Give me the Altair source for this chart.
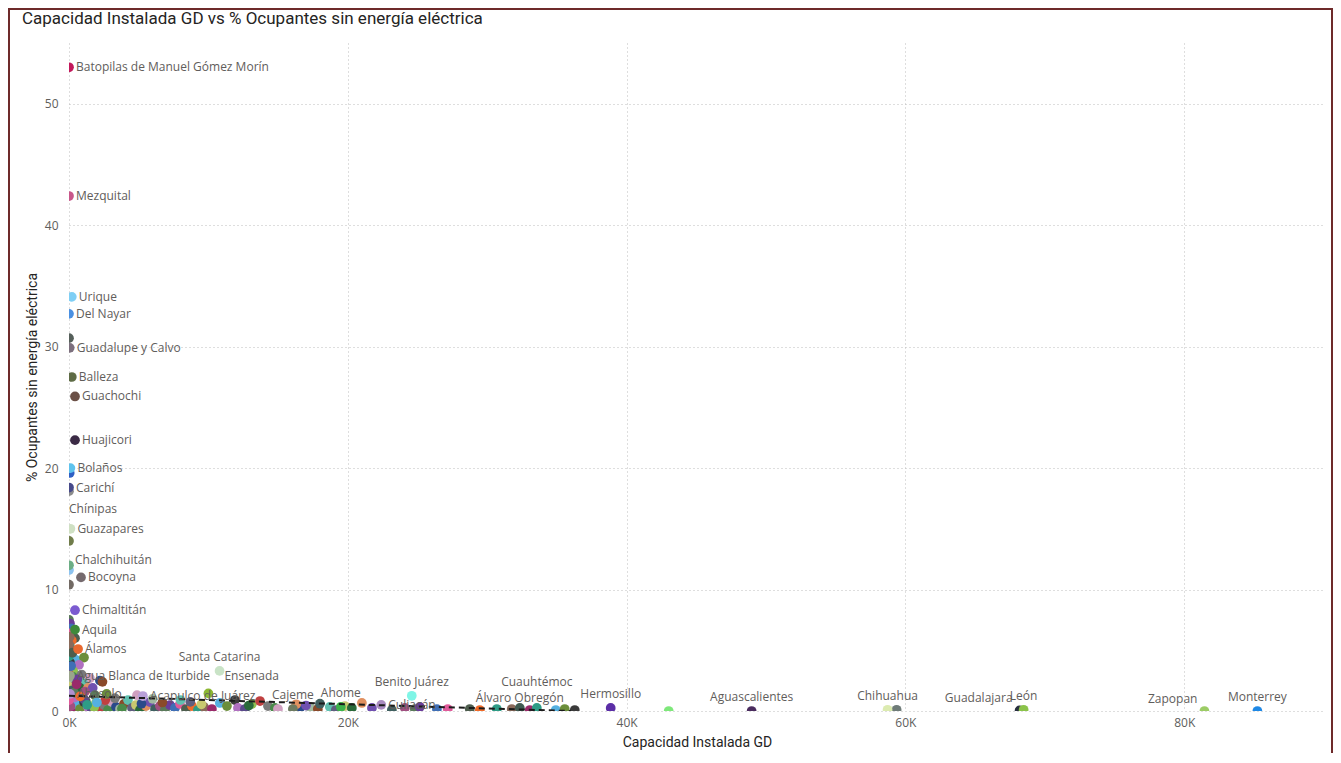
import altair as alt
import pandas as pd

# ---------------- data ----------------
names = [
    "Batopilas de Manuel Gómez Morín", "Mezquital", "Urique", "Del Nayar",
    "Guadalupe y Calvo", "Balleza", "Guachochi", "Huajicori", "Bolaños",
    "Chínipas", "Carichí", "Guazapares", "Chalchihuitán", "Bocoyna",
    "Chimaltitán", "Aquila", "Álamos", "Agua Blanca de Iturbide", "Abasolo",
    "Santa Catarina", "Ensenada", "Acapulco de Juárez", "Cajeme", "Ahome",
    "Benito Juárez", "Culiacán", "Álvaro Obregón", "Cuauhtémoc", "Hermosillo",
    "Aguascalientes", "Chihuahua", "Guadalajara", "León", "Zapopan", "Monterrey",
]
cap_gd = [
    0, 0, 200, 0,
    50, 200, 430, 430, 100,
    0, 0, 100, 0, 860,
    430, 430, 650, 70, 70,
    10800, 10000, 5300, 16060, 19500,
    24590, 22400, 32340, 33560, 38860,
    48970, 58720, 68190, 68480, 81450, 85250,
]
pct_sin = [
    53.0, 42.4, 34.1, 32.7,
    29.9, 27.5, 25.9, 22.3, 20.0,
    18.1, 18.4, 15.0, 12.0, 11.0,
    8.3, 6.7, 5.1, 2.9, 1.4,
    3.3, 1.45, 1.23, 0.16, 0.33,
    1.25, 0.5, 0.25, 0.25, 0.25,
    0.0, 0.1, 0.05, 0.1, 0.0, 0.0,
]

# unlabeled municipalities
other_x = [
    0, 50, 0, 0, 0, 59370, 43020,
    0, 70, 140, 0, 430, 200, 70, 200, 70, 500, 1075, 70, 720, 70, 300, 0,
    900, 290, 1500, 2220, 0, 2400, 1000, 430, 0, 790, 1360, 1700, 215, 1150,
    1860, 0, 300, 650, 1200, 0, 0, 0,
    215, 500, 790, 1075, 1360, 1650, 1935, 2220, 2510, 2800, 3080, 3370,
    3660, 3940, 4230, 4520, 4800, 5090, 5520, 5810, 6170, 6520, 6880, 7240,
    7600, 7960, 8390, 8820, 9250, 9680, 10250, 10820, 11330, 11900, 12120,
    12620, 13120, 13700, 14270, 14770, 14990, 16560, 17280, 17850, 18710,
    19140, 19790, 20290, 21010, 21730, 23160, 24090, 24810, 25170, 26390,
    27170, 28750, 29470, 30690, 31760, 33050, 34920, 35560, 36280,
    400, 1100, 1800, 2600, 3300, 3800, 4880, 5200, 6000, 6700, 8000, 8700,
    9500, 12900, 16300, 17000, 18000,
    100, 350, 600, 150, 0, 250, 800, 1300, 50, 550, 2000, 2700,
]
other_y = [
    30.7, 19.6, 14.0, 11.6, 10.4, 0.1, 0.0,
    7.5, 7.2, 6.8, 6.4, 6.0, 5.8, 5.3, 5.0, 4.6, 4.2, 4.4, 4.0, 3.8, 3.5, 3.3, 3.0,
    3.0, 2.8, 2.7, 2.5, 2.5, 2.4, 2.3, 2.1, 2.0, 1.9, 1.9, 1.9, 1.7, 1.6,
    1.3, 1.2, 1.0, 0.9, 0.8, 0.6, 4.5, 5.5,
    0.25, 0.58, 0.16, 0.74, 0.33, 0.08, 0.66, 0.25, 0.49, 0.08, 0.74, 0.33,
    0.16, 0.58, 0.9, 0.25, 0.49, 0.08, 0.41, 0.74, 0.16, 0.41, 0.08, 0.49,
    0.25, 0.58, 0.16, 0.41, 0.08, 0.33, 0.16, 0.66, 0.41, 0.9, 0.25,
    0.16, 0.58, 0.82, 0.41, 0.25, 0.16, 0.25, 0.33, 0.16, 0.33,
    0.08, 0.41, 0.25, 0.66, 0.25, 0.08, 0.25, 0.16, 0.33, 0.16,
    0.16, 0.16, 0.08, 0.16, 0.16, 0.08, 0.08, 0.16, 0.08,
    1.1, 0.95, 0.3, 0.9, 1.05, 0.2, 1.3, 0.6, 1.0, 0.7, 0.9, 0.75,
    0.55, 0.45, 0.55, 0.45, 0.6,
    0.4, 1.5, 2.6, 3.7, 0.9, 4.8, 1.2, 0.5, 6.1, 2.2, 0.7, 1.4,
]

# trend line (start / end)
trend_x = [0, 36000]
trend_y = [1.25, 0.0]

# label placement groups
right_labels = [
    "Batopilas de Manuel Gómez Morín", "Mezquital", "Urique", "Del Nayar",
    "Guadalupe y Calvo", "Balleza", "Guachochi", "Huajicori", "Bolaños",
    "Carichí", "Guazapares", "Bocoyna", "Chimaltitán",
    "Aquila", "Álamos", "Agua Blanca de Iturbide", "Abasolo",
    "Acapulco de Juárez", "Culiacán",
]
right_up_labels = ["Chalchihuitán"]
top_labels = [
    "Santa Catarina", "Cajeme", "Ahome", "Benito Juárez",
    "Hermosillo", "Aguascalientes", "Chihuahua", "León", "Monterrey",
]
top_near_labels = ["Álvaro Obregón"]
top_far_labels = ["Cuauhtémoc"]
upper_right_labels = ["Ensenada"]
upper_left_labels = ["Guadalajara", "Zapopan"]
below_labels = ["Chínipas"]

# ---------------- styles ----------------
named_colors = [
    "#c2185b", "#c8578a", "#7fcff5", "#4a90e2",
    "#7c6f7d", "#5e6b45", "#6b5047", "#3b2a45", "#5ec3ee",
    "#8c8c8c", "#474a8a", "#cfe0c3", "#6cae85", "#756a6e",
    "#7b5bd0", "#3e8a3a", "#e8692f", "#9aa58a", "#b090d0",
    "#c9e3c6", "#8db832", "#b8a0d8", "#6e7b60", "#3cb34a",
    "#7ff5e6", "#a98bc0", "#3f5a50", "#2e9c86", "#5b2ea6",
    "#4a2c5e", "#dcebb0", "#283040", "#8bc34a", "#9ccc65", "#1e88e5",
]
special_colors = ["#555f5a", "#2f5fc4", "#707c4a", "#8dc3f0", "#726a64", "#6e7b78", "#7ee87a"]
base_palette = [
    "#5a7a5a", "#6a3d9a", "#3f6fb5", "#e05a9a", "#4e5e4e", "#f06a28",
    "#2e9c86", "#8a6a5a", "#9a2a6a", "#55b0e0", "#6b8e3a", "#3a3a3a",
    "#b070c0", "#5a4a8a", "#90c050", "#c04040", "#7a7a7a", "#4a8a4a",
    "#d0a0c0", "#2a4a8a", "#a0b8a0", "#8a4a2a", "#60c0b0", "#5f5f7f",
    "#c8c870", "#2a6a3a", "#e09060", "#7050b0", "#406060", "#a05080",
]

other_names = [f"m{i + 1}" for i in range(len(other_x))]
all_names = other_names + names
n_rest = len(other_x) - len(special_colors)
palette = (special_colors
           + [base_palette[i % len(base_palette)] for i in range(n_rest)]
           + named_colors)

df = pd.DataFrame({
    "name": all_names,
    "cap": other_x + cap_gd,
    "pct": other_y + pct_sin,
})
trend_df = pd.DataFrame({"cap": trend_x, "pct": trend_y})

W, H = 1256, 668
LABEL_FONT = "Segoe UI, Open Sans, sans-serif"
TITLE_FONT = "DIN, Roboto, sans-serif"
LABEL_COLOR = "#5f5d5b"
xs = alt.Scale(domain=[0, 90100], nice=False, zero=True)
ys = alt.Scale(domain=[0, 55], nice=False)

x_axis = alt.Axis(
    values=[0, 20000, 40000, 60000, 80000],
    labelExpr="datum.value / 1000 + 'K'",
    grid=True, gridDash=[1, 3], gridColor="#bdbdbd",
    domain=False, ticks=False, labelFlush=False,
    labelColor="#605e5c", labelFont=LABEL_FONT, labelFontSize=12, labelPadding=6,
    title="Capacidad Instalada GD", titleFont=TITLE_FONT, titleFontSize=14,
    titleFontWeight="normal", titleColor="#252423", titlePadding=7,
)
y_axis = alt.Axis(
    values=[0, 10, 20, 30, 40, 50],
    grid=True, gridDash=[1, 3], gridColor="#bdbdbd",
    domain=False, ticks=False, labelFlush=False,
    labelColor="#605e5c", labelFont=LABEL_FONT, labelFontSize=12, labelPadding=11,
    title="% Ocupantes sin energía eléctrica", titleFont=TITLE_FONT, titleFontSize=14,
    titleFontWeight="normal", titleColor="#252423", titlePadding=5,
)

border = alt.Chart(pd.DataFrame({"k": [0]})).mark_rect(
    fillOpacity=0, stroke="#6e2a2a", strokeWidth=2, clip=False
).encode(
    x=alt.value(-60), x2=alt.value(W + 7), y=alt.value(-34), y2=alt.value(H + 80)
)

base = alt.Chart(df)
points = base.mark_circle(size=95, opacity=1, clip=True).encode(
    x=alt.X("cap:Q", scale=xs, axis=x_axis),
    y=alt.Y("pct:Q", scale=ys, axis=y_axis),
    color=alt.Color("name:N", scale=alt.Scale(domain=all_names, range=palette), legend=None),
)

trend = alt.Chart(trend_df).mark_line(
    color="#1b1b1b", strokeDash=[6, 4], strokeWidth=2, clip=True
).encode(x="cap:Q", y="pct:Q")


def label_layer(group, **kw):
    return base.transform_filter(
        alt.FieldOneOfPredicate(field="name", oneOf=group)
    ).mark_text(
        font=LABEL_FONT, fontSize=12, color=LABEL_COLOR, baseline="middle", **kw
    ).encode(x="cap:Q", y="pct:Q", text="name:N")


layers = [
    border,
    points,
    trend,
    label_layer(right_labels, align="left", dx=7),
    label_layer(right_up_labels, align="left", dx=6, dy=-5),
    label_layer(top_labels, align="center", dy=-14),
    label_layer(top_near_labels, align="center", dy=-10),
    label_layer(top_far_labels, align="center", dy=-26),
    label_layer(upper_right_labels, align="left", dx=16, dy=-17),
    label_layer(upper_left_labels, align="right", dx=-7, dy=-12),
    label_layer(below_labels, align="left", dx=0, dy=18),
]

chart = alt.layer(*layers).properties(
    width=W,
    height=H,
    title=alt.TitleParams(
        text="Capacidad Instalada GD vs % Ocupantes sin energía eléctrica",
        anchor="start", frame="group", dx=-47, dy=35, offset=15,
        font=TITLE_FONT, fontSize=17, fontWeight="normal", color="#252423",
    ),
    padding={"left": 61, "top": 35, "right": 8, "bottom": 42},
    autosize=alt.AutoSizeParams(type="none"),
).configure(background="white").configure_view(strokeWidth=0)

chart.save("out.html", embed_options={"renderer": "svg", "actions": False})
